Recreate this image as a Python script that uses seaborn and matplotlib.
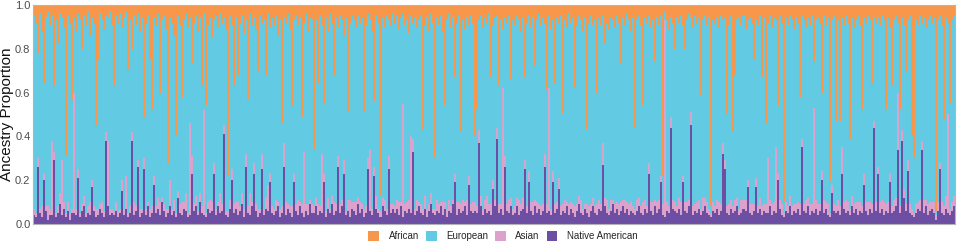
import matplotlib
matplotlib.use("Agg")
import matplotlib.pyplot as plt
import numpy as np
import pandas as pd
import seaborn as sns

# ancestry proportions per individual, in percent
african = [
    5, 8, 22, 4, 12, 36, 6, 3, 9, 5, 37, 7, 18, 4, 6, 10, 69, 5, 8, 43,
    6, 12, 4, 7, 20, 5, 9, 3, 14, 6, 8, 55, 25, 4, 7, 11, 5, 6, 3, 9,
    37, 5, 8, 4, 10, 6, 3, 29, 7, 20, 5, 9, 4, 12, 6, 51, 8, 5, 25, 48,
    6, 9, 4, 40, 7, 5, 11, 72, 6, 8, 14, 60, 5, 9, 42, 7, 4, 10, 6, 27,
    8, 5, 12, 6, 37, 4, 46, 9, 6, 15, 7, 5, 10, 4, 8, 6, 11, 78, 5, 9,
    37, 6, 32, 8, 5, 13, 7, 43, 4, 9, 6, 11, 30, 5, 8, 7, 32, 4, 10, 6,
    9, 5, 14, 7, 54, 6, 8, 4, 11, 46, 7, 5, 9, 6, 51, 8, 4, 12, 6, 7,
    66, 7, 36, 5, 9, 45, 6, 12, 4, 8, 32, 6, 10, 5, 7, 14, 6, 49, 8, 5,
    7, 10, 5, 8, 6, 49, 9, 4, 7, 12, 44, 5, 8, 87, 6, 10, 5, 7, 9, 4,
    8, 5, 11, 6, 4, 9, 7, 13, 5, 8, 6, 10, 7, 5, 57, 9, 6, 12, 4, 8,
    70, 6, 9, 5, 12, 46, 7, 4, 10, 6, 33, 8, 5, 58, 7, 11, 6, 9, 5, 8,
    60, 48, 7, 5, 10, 6, 8, 4, 33, 9, 6, 5, 37, 7, 11, 6, 8, 5, 34, 7,
    9, 5, 7, 12, 6, 33, 8, 5, 10, 6, 28, 7, 4, 9, 6, 8, 39, 5, 11, 7,
    36, 6, 8, 5, 50, 7, 10, 4, 8, 6, 38, 9, 5, 7, 12, 6, 57, 8, 5, 9,
    7, 40, 6, 9, 5, 18, 8, 11, 6, 7, 10, 5, 8, 27, 6, 9, 4, 7, 12, 6,
    56, 7, 5, 9, 46, 6, 8, 5, 10, 7, 26, 6, 9, 5, 78, 3, 7, 11, 6, 8,
    20, 6, 8, 5, 9, 20, 7, 4, 6, 10, 5, 8, 6, 41, 7, 5, 9, 6, 92, 7,
    8, 6, 10, 5, 7, 6, 50, 9, 5, 58, 32, 7, 6, 9, 5, 11, 7, 6, 8, 25,
    7, 9, 5, 33, 6, 54, 8, 5, 10, 6, 7, 46, 5, 8, 90, 6, 9, 5, 7, 11,
    6, 8, 42, 5, 7, 10, 6, 9, 5, 26, 7, 6, 8, 40, 5, 9, 6, 81, 7, 5,
    53, 7, 53, 6, 9, 5, 8, 61, 6, 10, 7, 5, 9, 48, 6, 8, 5, 7, 36, 6,
    8, 6, 9, 5, 7, 48, 6, 10, 37, 7, 5, 8, 48, 6, 9, 30, 7, 5, 60, 70,
    7, 9, 5, 8, 6, 10, 7, 5, 8, 6, 94, 7, 5, 9, 52, 6, 8, 45, 7, 5,
]
asian = [
    3, 2, 4, 2, 5, 3, 2, 6, 3, 34, 4, 2, 3, 5, 25, 3, 2, 4, 3, 2,
    55, 3, 4, 2, 3, 5, 2, 3, 6, 3, 2, 4, 3, 2, 5, 3, 4, 30, 3, 2,
    2, 4, 3, 2, 5, 3, 15, 2, 3, 4, 6, 2, 3, 4, 2, 5, 3, 2, 4, 3,
    4, 3, 5, 6, 2, 3, 4, 2, 12, 3, 5, 2, 3, 4, 6, 3, 8, 2, 42, 8,
    3, 5, 2, 4, 3, 48, 2, 3, 6, 4, 5, 3, 2, 9, 3, 4, 2, 3, 4, 5,
    4, 3, 6, 2, 5, 4, 6, 3, 10, 2, 5, 3, 4, 2, 7, 3, 5, 12, 4, 3,
    3, 5, 2, 4, 3, 11, 6, 2, 3, 5, 4, 3, 7, 2, 4, 30, 3, 5, 2, 4,
    3, 4, 5, 2, 27, 4, 3, 5, 2, 4, 6, 3, 5, 4, 3, 6, 2, 5, 8, 3,
    4, 6, 3, 5, 2, 4, 3, 5, 28, 3, 4, 6, 2, 3, 4, 5, 3, 6, 4, 2,
    3, 4, 6, 2, 52, 3, 5, 4, 35, 6, 3, 5, 2, 4, 3, 6, 4, 3, 5, 2,
    3, 5, 4, 2, 6, 3, 4, 5, 3, 2, 4, 6, 3, 4, 5, 2, 7, 4, 3, 5,
    4, 3, 6, 5, 3, 4, 8, 3, 5, 4, 3, 5, 4, 2, 58, 5, 3, 6, 4, 3,
    3, 4, 7, 3, 5, 4, 3, 5, 4, 6, 3, 5, 2, 4, 3, 6, 4, 56, 3, 5,
    4, 3, 5, 4, 3, 6, 2, 5, 3, 4, 5, 3, 4, 6, 3, 2, 4, 5, 3, 4,
    3, 5, 4, 3, 10, 4, 6, 3, 5, 2, 4, 3, 5, 4, 3, 6, 3, 5, 4, 3,
    3, 5, 4, 3, 6, 4, 3, 5, 4, 6, 3, 5, 4, 3, 5, 90, 4, 3, 5, 4,
    4, 3, 5, 6, 3, 4, 5, 3, 6, 4, 3, 5, 4, 3, 6, 4, 5, 3, 2, 4,
    3, 4, 6, 3, 5, 4, 3, 5, 4, 3, 5, 4, 3, 6, 4, 5, 3, 4, 5, 3,
    4, 3, 5, 4, 3, 4, 25, 3, 5, 4, 30, 3, 4, 5, 2, 4, 3, 5, 4, 3,
    4, 3, 5, 4, 3, 6, 4, 5, 3, 48, 4, 5, 3, 4, 6, 3, 5, 2, 4, 3,
    3, 5, 4, 12, 3, 6, 4, 3, 5, 4, 3, 6, 4, 3, 5, 4, 6, 3, 4, 3,
    4, 3, 5, 4, 6, 3, 5, 4, 3, 5, 4, 26, 3, 5, 4, 3, 5, 4, 3, 2,
    4, 3, 5, 4, 6, 3, 5, 4, 3, 5, 2, 4, 3, 5, 4, 6, 45, 3, 4, 5,
]
native = [
    4, 3, 26, 5, 3, 20, 6, 2, 4, 4, 29, 3, 5, 9, 4, 7, 3, 6, 2, 5,
    5, 4, 21, 3, 6, 8, 3, 5, 4, 17, 6, 3, 4, 7, 5, 3, 38, 8, 4, 5,
    4, 6, 3, 5, 15, 4, 7, 3, 5, 38, 4, 6, 26, 3, 5, 25, 4, 8, 3, 5,
    18, 5, 7, 4, 10, 6, 3, 5, 8, 4, 6, 3, 12, 5, 4, 7, 6, 3, 4, 23,
    6, 8, 4, 10, 5, 4, 3, 7, 5, 6, 23, 4, 8, 5, 6, 41, 4, 3, 7, 20,
    5, 7, 4, 6, 9, 3, 26, 5, 4, 8, 23, 6, 3, 5, 25, 4, 7, 6, 19, 5,
    4, 6, 8, 3, 5, 26, 4, 7, 5, 3, 19, 6, 4, 8, 5, 3, 6, 4, 9, 5,
    5, 8, 4, 6, 5, 19, 3, 7, 5, 9, 4, 6, 26, 5, 8, 23, 4, 6, 3, 7,
    6, 4, 9, 5, 7, 3, 5, 25, 6, 4, 22, 7, 5, 3, 8, 6, 4, 25, 5, 7,
    5, 7, 4, 8, 3, 6, 5, 7, 5, 33, 4, 6, 8, 5, 4, 7, 3, 6, 9, 5,
    4, 6, 5, 8, 4, 7, 3, 6, 5, 9, 19, 4, 7, 5, 6, 8, 4, 18, 6, 5,
    6, 5, 37, 8, 4, 7, 5, 6, 4, 16, 8, 39, 5, 7, 4, 26, 6, 5, 8, 4,
    5, 8, 4, 6, 7, 25, 5, 19, 6, 4, 8, 5, 7, 4, 6, 26, 5, 6, 4, 19,
    5, 7, 16, 4, 6, 5, 8, 4, 7, 5, 3, 6, 9, 5, 4, 7, 5, 3, 6, 8,
    5, 4, 7, 6, 27, 8, 5, 4, 6, 9, 5, 7, 4, 6, 8, 5, 7, 4, 6, 5,
    4, 6, 8, 5, 4, 7, 5, 23, 6, 4, 8, 5, 7, 19, 4, 3, 6, 5, 44, 7,
    6, 5, 7, 4, 19, 6, 5, 8, 45, 4, 6, 5, 7, 4, 6, 8, 5, 4, 3, 6,
    5, 7, 4, 6, 32, 25, 5, 4, 7, 5, 6, 8, 4, 5, 7, 6, 17, 5, 4, 6,
    17, 5, 7, 4, 6, 5, 5, 8, 4, 6, 5, 20, 7, 4, 3, 6, 5, 8, 4, 6,
    5, 7, 4, 35, 6, 5, 8, 4, 6, 5, 7, 4, 6, 20, 5, 7, 4, 3, 14, 6,
    5, 6, 4, 23, 7, 5, 6, 4, 8, 5, 7, 4, 6, 5, 18, 6, 4, 7, 5, 44,
    6, 23, 5, 7, 4, 6, 5, 19, 5, 6, 8, 34, 5, 38, 12, 6, 24, 5, 4, 3,
    5, 7, 6, 34, 5, 8, 4, 6, 7, 5, 2, 6, 25, 5, 4, 7, 5, 4, 6, 8,
]
assert len(african) == len(asian) == len(native)

n = len(african)
afr = np.array(african) / 100
asn = np.array(asian) / 100
nat = np.array(native) / 100
eur = 1 - afr - asn - nat

groups = ["African", "European", "Asian", "Native American"]
colors = ["#F7974B", "#63CAE4", "#DCA2CB", "#6C4FA2"]

rows = []
for name, vals in zip(groups, [afr, eur, asn, nat]):
    rows.append(pd.DataFrame({"ind": np.arange(n), "prop": vals, "ancestry": name}))
df = pd.concat(rows, ignore_index=True)

sns.set_style("white")
plt.rcParams["font.family"] = ["Liberation Sans", "DejaVu Sans"]

fig = plt.figure(figsize=(9.57, 2.44), dpi=100)
ax = fig.add_axes([0.034, 0.082, 0.964, 0.8975])

sns.histplot(data=df, x="ind", weights="prop", hue="ancestry", hue_order=groups,
             palette=colors, multiple="stack", discrete=True, shrink=1,
             alpha=1, linewidth=0, ax=ax)

ax.set_xlim(-0.5, n - 0.5)
ax.set_ylim(0, 1)
ax.set_xticks([])
ax.set_xlabel("")
ax.set_yticks([0, 0.2, 0.4, 0.6, 0.8, 1.0])
ax.set_yticklabels(["0.0", "0.2", "0.4", "0.6", "0.8", "1.0"])
ax.tick_params(axis="y", labelsize=8, labelcolor="#4d4d4d", length=0, pad=1.5)
ax.set_ylabel("Ancestry Proportion", fontsize=11, color="#111111")
ax.yaxis.set_label_coords(-0.0205, 0.5)
for s in ax.spines.values():
    s.set_color("#b5b5b5")
    s.set_linewidth(0.8)

sns.move_legend(ax, "center", bbox_to_anchor=(0.51, -0.055), ncol=4, frameon=False,
                title=None, fontsize=7, handlelength=1.1, handleheight=1.2,
                columnspacing=0.7, handletextpad=1.0)

fig.savefig("out.png", dpi=100)
